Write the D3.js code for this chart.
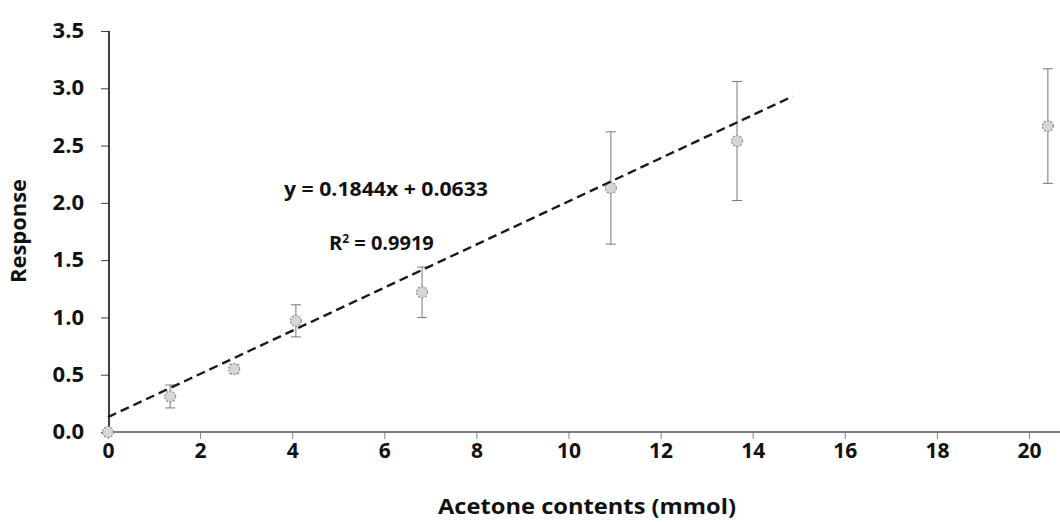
<!DOCTYPE html>
<html><head><meta charset="utf-8">
<script src="https://cdn.jsdelivr.net/npm/d3@7"></script>
<style>body{margin:0;background:#fff}svg{display:block}</style>
</head><body>
<svg id="c" width="1060" height="522"></svg>
<script>
const xValues = [0, 1.35, 2.74, 4.08, 6.82, 10.92, 13.66, 20.41];
const yValues = [0, 0.31, 0.55, 0.97, 1.22, 2.13, 2.54, 2.67];
const yErrors = [0, 0.10, 0.04, 0.14, 0.22, 0.49, 0.52, 0.50];
const trendX = [0, 14.87];
const trendY = [0.13, 2.93];
const xTicks = [0, 2, 4, 6, 8, 10, 12, 14, 16, 18, 20];
const yTicks = [0, 0.5, 1.0, 1.5, 2.0, 2.5, 3.0, 3.5];
const equationText = "y = 0.1844x + 0.0633";
const r2Value = "0.9919";

const svg = d3.select("#c");
const x = d3.scaleLinear().domain([0, 20]).range([108, 1029]);
const y = d3.scaleLinear().domain([0, 3.5]).range([432, 31]);
const font = "'Open Sans', sans-serif";

// x axis
const xa = svg.append("g").attr("transform", "translate(0,432)")
  .call(d3.axisBottom(x).tickValues(xTicks).tickFormat(d3.format("d")).tickSize(7).tickPadding(4));
xa.select(".domain").remove();
xa.selectAll(".tick line").attr("stroke", "#888");
xa.selectAll("text").attr("font-family", font).attr("font-weight", 700).attr("font-size", 21).attr("fill", "#111")
  .attr("dy", "0.71em");
svg.append("line").attr("x1", x(0)).attr("x2", 1060).attr("y1", 432).attr("y2", 432)
  .attr("stroke", "#555").attr("stroke-width", 1.6);

// y axis
const ya = svg.append("g").attr("transform", "translate(109,0)")
  .call(d3.axisLeft(y).tickValues(yTicks).tickFormat(d3.format(".1f")).tickSize(8).tickPadding(17));
ya.select(".domain").remove();
ya.selectAll(".tick line").attr("stroke", "#444");
ya.selectAll("text").attr("font-family", font).attr("font-weight", 700).attr("font-size", 22).attr("fill", "#111")
  .attr("dy", "0.3em");
svg.append("line").attr("x1", 109).attr("x2", 109).attr("y1", y(3.5)).attr("y2", 432)
  .attr("stroke", "#111").attr("stroke-width", 1.6);

// error bars
const pts = xValues.map((v, i) => ({x: v, y: yValues[i], e: yErrors[i]}));
const eb = svg.append("g").attr("stroke", "#777").attr("stroke-width", 1);
pts.filter(d => d.e > 0).forEach(d => {
  eb.append("line").attr("x1", x(d.x)).attr("x2", x(d.x)).attr("y1", y(d.y - d.e)).attr("y2", y(d.y + d.e));
  [d.y - d.e, d.y + d.e].forEach(v => eb.append("line").attr("x1", x(d.x) - 5).attr("x2", x(d.x) + 5).attr("y1", y(v)).attr("y2", y(v)));
});

// markers
svg.append("g").selectAll("circle").data(pts).join("circle")
  .attr("cx", d => x(d.x)).attr("cy", d => y(d.y)).attr("r", 5.5)
  .attr("fill", "#d6d6d6").attr("stroke", "#8f8f8f").attr("stroke-width", 1.2)
  .attr("stroke-dasharray", "2,1.5");

// trend line
svg.append("line").attr("x1", x(trendX[0])).attr("x2", x(trendX[1]))
  .attr("y1", y(trendY[0])).attr("y2", y(trendY[1]))
  .attr("stroke", "#1a1a1a").attr("stroke-width", 2.4).attr("stroke-dasharray", "9,5");

// equation
svg.append("text").attr("x", 284).attr("y", 196)
  .attr("font-family", font).attr("font-weight", 700).attr("font-size", 20).attr("fill", "#111")
  .attr("textLength", 204).attr("lengthAdjust", "spacingAndGlyphs")
  .text(equationText);
const r2 = svg.append("text").attr("x", 329).attr("y", 250)
  .attr("font-family", font).attr("font-weight", 700).attr("font-size", 20).attr("fill", "#111");
r2.append("tspan").text("R");
r2.append("tspan").attr("dy", -7).attr("font-size", 12).text("2");
r2.append("tspan").attr("dy", 7).text(" = " + r2Value);

// axis titles
svg.append("text").attr("x", 438).attr("y", 514)
  .attr("font-family", font).attr("font-weight", 700).attr("font-size", 21).attr("fill", "#111")
  .attr("textLength", 298).attr("lengthAdjust", "spacingAndGlyphs")
  .text("Acetone contents (mmol)");
svg.append("text").attr("transform", "translate(26,231) rotate(-90)").attr("text-anchor", "middle")
  .attr("font-family", font).attr("font-weight", 700).attr("font-size", 21).attr("fill", "#111")
  .attr("textLength", 104).attr("lengthAdjust", "spacingAndGlyphs")
  .text("Response");
</script>
</body></html>
